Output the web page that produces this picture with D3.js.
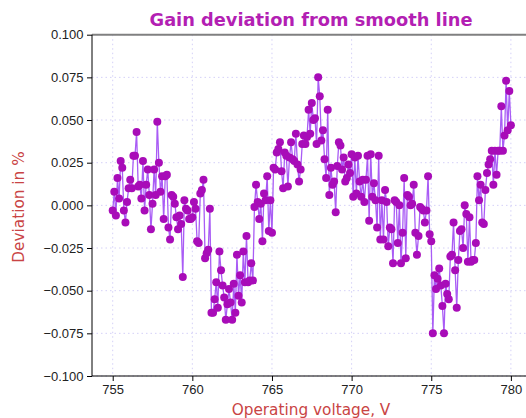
<!DOCTYPE html>
<html lang="en">
<head>
<meta charset="UTF-8">
<title>Gain deviation from smooth line</title>
<style>
    body { margin: 0; background: #fff; }
    svg { display: block; font-family: "DejaVu Sans", sans-serif; }
    .axis text { font-size: 13px; fill: #222; }
    .axis path, .axis line { stroke: #000; }
    .grid line { stroke: #d4d0f7; stroke-dasharray: 1.5,3; }
</style>
</head>
<body>
<svg id="chart" width="526" height="418"></svg>

<script src="https://d3js.org/d3.v7.min.js"></script>
<script>
// measured every 0.1 V
const voltages = [
    755.0, 755.1, 755.2, 755.3, 755.4, 755.5, 755.6, 755.7, 755.8, 755.9,
    756.0, 756.1, 756.2, 756.3, 756.4, 756.5, 756.6, 756.7, 756.8, 756.9,
    757.0, 757.1, 757.2, 757.3, 757.4, 757.5, 757.6, 757.7, 757.8, 757.9,
    758.0, 758.1, 758.2, 758.3, 758.4, 758.5, 758.6, 758.7, 758.8, 758.9,
    759.0, 759.1, 759.2, 759.3, 759.4, 759.5, 759.6, 759.7, 759.8, 759.9,
    760.0, 760.1, 760.2, 760.3, 760.4, 760.5, 760.6, 760.7, 760.8, 760.9,
    761.0, 761.1, 761.2, 761.3, 761.4, 761.5, 761.6, 761.7, 761.8, 761.9,
    762.0, 762.1, 762.2, 762.3, 762.4, 762.5, 762.6, 762.7, 762.8, 762.9,
    763.0, 763.1, 763.2, 763.3, 763.4, 763.5, 763.6, 763.7, 763.8, 763.9,
    764.0, 764.1, 764.2, 764.3, 764.4, 764.5, 764.6, 764.7, 764.8, 764.9,
    765.0, 765.1, 765.2, 765.3, 765.4, 765.5, 765.6, 765.7, 765.8, 765.9,
    766.0, 766.1, 766.2, 766.3, 766.4, 766.5, 766.6, 766.7, 766.8, 766.9,
    767.0, 767.1, 767.2, 767.3, 767.4, 767.5, 767.6, 767.7, 767.8, 767.9,
    768.0, 768.1, 768.2, 768.3, 768.4, 768.5, 768.6, 768.7, 768.8, 768.9,
    769.0, 769.1, 769.2, 769.3, 769.4, 769.5, 769.6, 769.7, 769.8, 769.9,
    770.0, 770.1, 770.2, 770.3, 770.4, 770.5, 770.6, 770.7, 770.8, 770.9,
    771.0, 771.1, 771.2, 771.3, 771.4, 771.5, 771.6, 771.7, 771.8, 771.9,
    772.0, 772.1, 772.2, 772.3, 772.4, 772.5, 772.6, 772.7, 772.8, 772.9,
    773.0, 773.1, 773.2, 773.3, 773.4, 773.5, 773.6, 773.7, 773.8, 773.9,
    774.0, 774.1, 774.2, 774.3, 774.4, 774.5, 774.6, 774.7, 774.8, 774.9,
    775.0, 775.1, 775.2, 775.3, 775.4, 775.5, 775.6, 775.7, 775.8, 775.9,
    776.0, 776.1, 776.2, 776.3, 776.4, 776.5, 776.6, 776.7, 776.8, 776.9,
    777.0, 777.1, 777.2, 777.3, 777.4, 777.5, 777.6, 777.7, 777.8, 777.9,
    778.0, 778.1, 778.2, 778.3, 778.4, 778.5, 778.6, 778.7, 778.8, 778.9,
    779.0, 779.1, 779.2, 779.3, 779.4, 779.5, 779.6, 779.7, 779.8, 779.9,
    780.0
];

// deviation in %
const deviation = [
    -0.003, 0.008, -0.006, 0.016, 0.004, 0.026, 0.022, -0.003, -0.010, 0.002,
    0.010, 0.015, 0.010, 0.029, 0.029, 0.043, 0.011, 0.012, 0.004, 0.026,
    -0.003, 0.012, 0.021, 0.006, -0.014, 0.001, 0.021, 0.006, 0.049, 0.025,
    0.008, 0.017, -0.008, 0.017, 0.018, -0.013, -0.020, 0.006, 0.005, 0.001,
    -0.007, -0.014, -0.006, -0.011, -0.042, 0.003, -0.002, -0.003, -0.008, -0.008,
    -0.007, 0.002, -0.002, -0.021, -0.022, 0.007, 0.009, 0.015, -0.031, -0.028,
    -0.026, -0.002, -0.063, -0.063, -0.055, -0.045, -0.060, -0.027, -0.038, -0.047,
    -0.054, -0.067, -0.058,
    -0.049, -0.057, -0.067, -0.046, -0.063, -0.029, -0.053, -0.041, -0.057, -0.027,
    -0.045, -0.018, -0.045, -0.044, -0.034, -0.044, -0.001, 0.012, 0.002, -0.008,
    0.001, -0.021, 0.007, 0.003, 0.017, -0.015, 0.003, -0.016, 0.022, 0.021,
    0.031, 0.033, 0.037, 0.020, 0.010, 0.031, 0.029, 0.011, 0.028, 0.037,
    0.027, 0.026, 0.042, 0.024, 0.014, 0.021, 0.036, 0.041, 0.036, 0.040,
    0.056, 0.042, 0.060, 0.050, 0.051, 0.036, 0.075, 0.064, 0.038, 0.044,
    0.027, 0.016, 0.056, 0.006, 0.022, 0.012, 0.014, -0.004, 0.023, 0.037,
    0.035, 0.021, 0.028, 0.014, 0.016, 0.024, 0.019, 0.030, 0.005, 0.028,
    0.007, 0.029, 0.014, 0.005, 0.015, 0.002, 0.015, 0.029, -0.009,
    0.030, 0.005, 0.013, 0.003, -0.013, 0.029, -0.020, 0.003, -0.020, 0.009,
    0.002, -0.024, -0.013, -0.014, -0.034, 0.003, 0.002, -0.022, 0.000, -0.034,
    -0.016, 0.016, -0.031, 0.006, 0.005, 0.000, 0.001, 0.012, -0.016, -0.029,
    -0.018, -0.001, -0.002, -0.003, -0.010, -0.003, 0.017, -0.017, -0.021, -0.075,
    -0.041, -0.049, -0.043, -0.037, -0.047, -0.059, -0.075, -0.046, -0.052, -0.055,
    -0.030, -0.029, -0.010, -0.038, -0.060, -0.032, -0.015, -0.014, -0.025, 0.000,
    -0.005, -0.033, -0.007, -0.033, -0.032, -0.032, -0.022, 0.017, 0.003, 0.012,
    -0.010, -0.011, 0.009, 0.019, 0.024, 0.027, 0.032, 0.012, 0.032, 0.018,
    0.032, 0.032, 0.058, 0.032, 0.041, 0.073, 0.044, 0.067, 0.047
];

const xTicks = [755, 760, 765, 770, 775, 780];
const yTicks = [-0.100, -0.075, -0.050, -0.025, 0.000, 0.025, 0.050, 0.075, 0.100];

const data = voltages.map((v, i) => ({ v: v, d: deviation[i] }));

const svg = d3.select("#chart");
const plotLeft = 92, plotRight = 530, plotTop = 34.7, plotBottom = 376;

const x = d3.scaleLinear().domain([753.7, 781.2]).range([plotLeft, plotRight]);
const y = d3.scaleLinear().domain([-0.1, 0.1]).range([plotBottom, plotTop]);

const fmt = d => d3.format(".3f")(d).replace("-", "\u2212");

// grid
const grid = svg.append("g").attr("class", "grid");
grid.selectAll("line.gx")
    .data(xTicks)
    .enter().append("line")
    .attr("x1", d => x(d)).attr("x2", d => x(d))
    .attr("y1", plotTop).attr("y2", plotBottom);
grid.selectAll("line.gy")
    .data(yTicks)
    .enter().append("line")
    .attr("x1", plotLeft).attr("x2", plotRight)
    .attr("y1", d => y(d)).attr("y2", d => y(d));

// top spine is grey
svg.append("line")
    .attr("x1", plotLeft).attr("x2", plotRight)
    .attr("y1", plotTop).attr("y2", plotTop)
    .attr("stroke", "#808080").attr("stroke-width", 2);

// line + markers
const line = d3.line().x(d => x(d.v)).y(d => y(d.d));
svg.append("path")
    .datum(data)
    .attr("d", line)
    .attr("fill", "none")
    .attr("stroke", "#a95cf5")
    .attr("stroke-width", 1.3);

svg.selectAll("circle")
    .data(data)
    .enter().append("circle")
    .attr("cx", d => x(d.v))
    .attr("cy", d => y(d.d))
    .attr("r", 4)
    .attr("fill", "#a80cb8");

// axes
svg.append("g")
    .attr("class", "axis")
    .attr("transform", `translate(0,${plotBottom})`)
    .call(d3.axisBottom(x).tickValues(xTicks).tickSize(5).tickPadding(3.5).tickFormat(d3.format("d")))
    .call(g => g.select(".domain").attr("d", `M${plotLeft},0H${plotRight}`));

svg.append("g")
    .attr("class", "axis")
    .attr("transform", `translate(${plotLeft},0)`)
    .call(d3.axisLeft(y).tickValues(yTicks).tickSize(5).tickPadding(3.5).tickFormat(fmt))
    .call(g => g.select(".domain").attr("d", `M0,${plotBottom}V${plotTop}`));

// labels
svg.append("text")
    .attr("x", 311).attr("y", 26)
    .attr("text-anchor", "middle")
    .attr("font-size", 17.8).attr("font-weight", "bold")
    .attr("fill", "#b31fb3")
    .text("Gain deviation from smooth line");

svg.append("text")
    .attr("x", 311).attr("y", 415)
    .attr("text-anchor", "middle")
    .attr("font-size", 15.3)
    .attr("fill", "#c94444")
    .text("Operating voltage, V");

svg.append("text")
    .attr("transform", "translate(24,207) rotate(-90)")
    .attr("text-anchor", "middle")
    .attr("font-size", 15.3)
    .attr("fill", "#c94444")
    .text("Deviation in %");
</script>
</body>
</html>
